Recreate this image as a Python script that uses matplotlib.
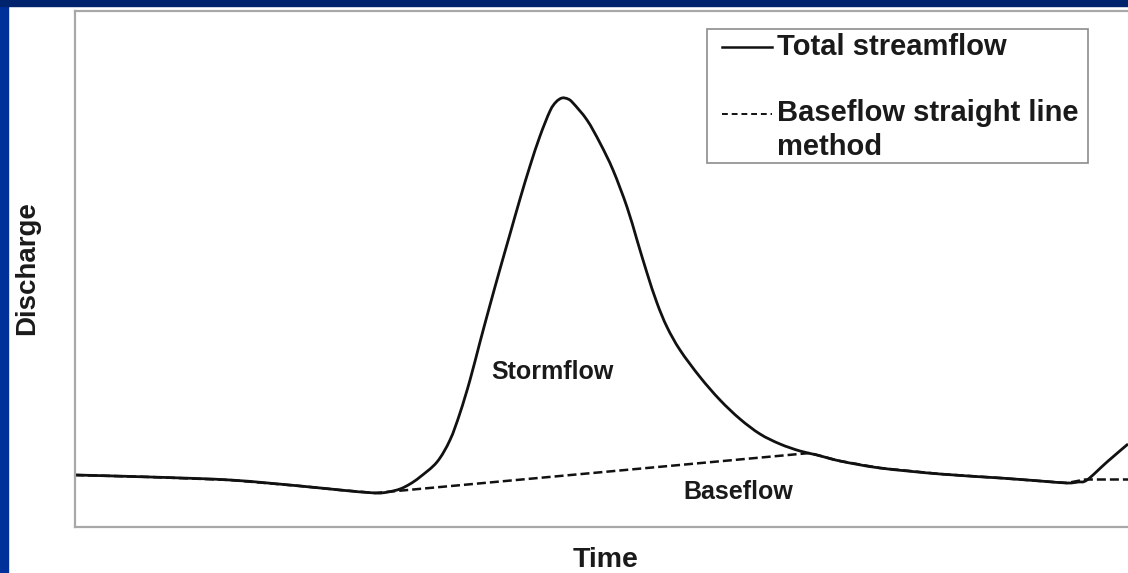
import matplotlib
matplotlib.use("Agg")
import matplotlib.pyplot as plt
import numpy as np
from matplotlib.patches import Rectangle, PathPatch
from matplotlib.path import Path
from matplotlib.lines import Line2D

plt.rcParams["font.family"] = ["Liberation Sans", "DejaVu Sans"]
plt.rcParams["font.weight"] = "bold"

# hydrograph (arbitrary units)
time = [0, 7.5, 15.5, 22.5, 26.5, 30.0, 31.3, 32.5, 33.5, 34.5, 36.2, 37.5,
        38.5, 39.5, 40.5, 41.5, 42.5, 43.5, 44.5, 45.5, 46.5, 47.5, 48.1,
        48.7, 49.3, 49.8, 51.2, 52.5, 53.8, 55.2, 56.2, 57.2, 58.2, 59.2,
        60.5, 62.5, 64.5, 66.5, 68.5, 70.5, 72.5, 74.2, 76.5, 80.5, 86.5,
        92.5, 96.5, 99.2, 100.3, 101.2, 103.2, 105.3]
streamflow = [5.2, 5.0, 4.7, 4.1, 3.7, 3.4, 3.5, 3.8, 4.3, 5.0, 6.5, 8.7,
              11.4, 14.7, 18.5, 22.2, 25.8, 29.3, 32.8, 36.1, 39.1, 41.6, 42.5,
              42.9, 42.8, 42.4, 40.7, 38.4, 35.7, 32.0, 28.7, 25.4, 22.4, 20.0,
              17.7, 15.0, 12.7, 10.8, 9.3, 8.3, 7.6, 7.2, 6.6, 5.9, 5.3,
              4.9, 4.6, 4.4, 4.5, 4.7, 6.5, 8.3]

base_time = [0, 7.5, 15.5, 22.5, 26.5, 30.0, 73.5, 74.2, 76.5, 80.5, 86.5,
             92.5, 96.5, 99.2, 101.0, 106.5]
baseflow = [5.2, 5.0, 4.7, 4.1, 3.7, 3.4, 7.4, 7.2, 6.6, 5.9, 5.3,
            4.9, 4.6, 4.4, 4.75, 4.75]


def smooth_path(x, y):
    # smoothed line through the points (like a spreadsheet "smoothed line")
    p = np.column_stack([x, y]).astype(float)
    p = np.vstack([p[0], p, p[-1]])
    verts = [p[1]]
    codes = [Path.MOVETO]
    for i in range(1, len(p) - 2):
        c1 = p[i] + (p[i + 1] - p[i - 1]) / 6
        c2 = p[i + 1] - (p[i + 2] - p[i]) / 6
        verts += [c1, c2, p[i + 1]]
        codes += [Path.CURVE4] * 3
    return Path(verts, codes)


W, H = 1128, 573
fig = plt.figure(figsize=(W / 100, H / 100), dpi=100)
fig.patch.set_facecolor("white")

# slide background: blue strips on top and left
fig.add_artist(Rectangle((0, 0), 8 / W, 1, transform=fig.transFigure,
                         color="#00309a", zorder=0))
fig.add_artist(Rectangle((0, 1 - 6 / H), 1, 6 / H, transform=fig.transFigure,
                         color="#00236e", zorder=0))

ax = fig.add_axes([75 / W, 46 / H, 1065 / W, 516 / H])
ax.add_patch(PathPatch(smooth_path(time, streamflow), fill=False,
                       edgecolor="#111111", lw=2.0, joinstyle="round"))
ax.plot(base_time, baseflow, color="#111111", lw=1.8, dashes=(3.6, 1.6))
ax.set_xlim(0, 106.5)
ax.set_ylim(0, 51.6)
ax.set_xticks([])
ax.set_yticks([])
for s in ax.spines.values():
    s.set_color("#a8a8a8")
    s.set_linewidth(1.6)

ax.text(47.7, 15.5, "Stormflow", ha="center", va="center",
        fontsize=18, color="#1a1a1a", fontweight="bold")
ax.text(66.3, 3.5, "Baseflow", ha="center", va="center",
        fontsize=18, color="#1a1a1a", fontweight="bold")

fig.text(27 / W, 1 - 268 / H, "Discharge", rotation=90, ha="center",
         va="center", fontsize=20, color="#1a1a1a", fontweight="bold")
fig.text(606 / W, 1 - 560 / H, "Time", ha="center", va="center",
         fontsize=20.5, color="#1a1a1a", fontweight="bold")

# legend box
fig.add_artist(Rectangle((707 / W, 1 - 163 / H), 381 / W, 134 / H,
                         transform=fig.transFigure, facecolor="white",
                         edgecolor="#8c8c8c", lw=1.2, zorder=3))
fig.add_artist(Line2D([722 / W, 772 / W], [1 - 47 / H, 1 - 47 / H],
                      transform=fig.transFigure, color="#111111", lw=1.8,
                      zorder=4))
fig.add_artist(Line2D([722 / W, 772 / W], [1 - 114 / H, 1 - 114 / H],
                      transform=fig.transFigure, color="#111111", lw=1.4,
                      dashes=(3.0, 2.0), zorder=4))
fig.text(777 / W, 1 - 47 / H, "Total streamflow", ha="left", va="center",
         fontsize=21, color="#1a1a1a", fontweight="bold", zorder=5)
fig.text(777 / W, 1 - 113 / H, "Baseflow straight line", ha="left",
         va="center", fontsize=21, color="#1a1a1a", fontweight="bold",
         zorder=5)
fig.text(777 / W, 1 - 147 / H, "method", ha="left", va="center",
         fontsize=21, color="#1a1a1a", fontweight="bold", zorder=5)

fig.savefig("out.png", dpi=100)
